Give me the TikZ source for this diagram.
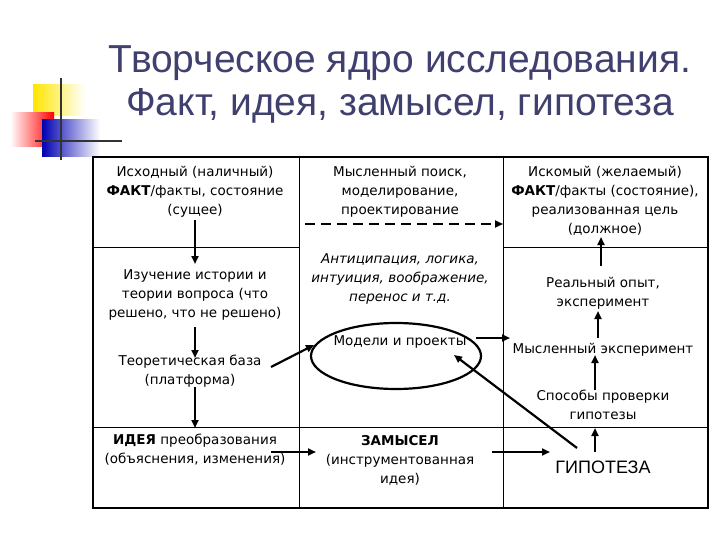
\documentclass[tikz,border=0pt]{standalone}
\usepackage{fontspec}
\setmainfont{DejaVu Sans}
\newfontfamily\titlefont{Liberation Sans}
\usetikzlibrary{arrows.meta}
\definecolor{titlecol}{RGB}{64,64,110}
\begin{document}
\begin{tikzpicture}[x=1pt,y=-1pt,
  txt/.style={align=center,font=\fontsize{13.5}{19}\selectfont,inner sep=0pt},
  arr/.style={-{Triangle[length=8pt,width=7pt]},line width=2.2pt},
  grid/.style={line width=0.8pt}]
\useasboundingbox (0,0) rectangle (720,540);
% decoration
\shade[left color=yellow!80!orange,right color=white] (33,85) rectangle (85,116);
\shade[right color=red,left color=white] (10,113) rectangle (54,147);
\shade[left color=blue!70!black,right color=white] (42,120) rectangle (100,157);
\draw[line width=1.5pt,black!80] (61,78) -- (61,160);
\draw[line width=1.5pt,black!80] (35,141) -- (122,141);
% title
\node[font=\titlefont\fontsize{39}{43}\selectfont,text=titlecol,align=center,inner sep=0pt] (title) at (400,84) {Творческое ядро исследования.\\Факт, идея, замысел, гипотеза};
% table
\draw[line width=1.8pt] (93,157) rectangle (708,508);
\draw[grid] (299,157) -- (299,508) (503,157) -- (503,508);
\draw[grid] (93,247) -- (299,247) (503,247) -- (708,247);
\draw[grid] (93,427) -- (708,427);
% left
\node[txt] (a1) at (195,192) {Исходный (наличный)\\\textbf{ФАКТ}/факты, состояние\\(сущее)};
\node[txt] (a2) at (195,295) {Изучение истории и\\теории вопроса (что\\решено, что не решено)};
\node[txt] (a3) at (190,371) {Теоретическая база\\(платформа)};
\node[txt] (a4) at (195,450) {\textbf{ИДЕЯ} преобразования\\(объяснения, изменения)};
% middle
\node[txt] (b1) at (400,192) {Мысленный поиск,\\моделирование,\\проектирование};
\node[txt,font=\fontsize{13.5}{19}\selectfont\itshape] (b2) at (400,279) {Антиципация, логика,\\интуиция, воображение,\\перенос и т.д.};
\draw[line width=2.2pt] (396,356) ellipse (85 and 33);
\node[txt] (b3) at (400,342) {Модели и проекты};
\node[txt] (b4) at (400,460) {\textbf{ЗАМЫСЕЛ}\\(инструментованная\\идея)};
% right
\node[txt] (c1) at (605,201) {Искомый (желаемый)\\\textbf{ФАКТ}/факты (состояние),\\реализованная цель\\(должное)};
\node[txt] (c2) at (603,293) {Реальный опыт,\\эксперимент};
\node[txt] (c3) at (603,350) {Мысленный эксперимент};
\node[txt] (c4) at (603,405) {Способы проверки\\гипотезы};
\node[font=\titlefont\fontsize{18}{20}\selectfont,inner sep=0pt] (c5) at (603,467) {ГИПОТЕЗА};
% coordinates
\coordinate (d1) at (305,224); \coordinate (d2) at (503,224);
\coordinate (l1) at (195,220); \coordinate (l2) at (195,264);
\coordinate (l3) at (195,327); \coordinate (l4) at (195,358);
\coordinate (l5) at (195,387); \coordinate (l6) at (195,428);
\coordinate (t1) at (271,367); \coordinate (t2) at (314,345);
\coordinate (e1) at (476,338); \coordinate (e2) at (510,338);
\coordinate (i1) at (271,452); \coordinate (i2) at (316,452);
\coordinate (z1) at (492,452); \coordinate (z2) at (550,452);
\coordinate (g1) at (577,448); \coordinate (g2) at (454,355);
\coordinate (r1) at (595,452); \coordinate (r2) at (595,428);
\coordinate (r3) at (595,390); \coordinate (r4) at (595,355);
\coordinate (r5) at (598,338); \coordinate (r6) at (598,311);
\coordinate (r7) at (601,266); \coordinate (r8) at (601,237);
\draw[arr,dashed,dash pattern=on 10pt off 6pt] (d1) -- (d2);
\draw[arr] (l1) -- (l2);
\draw[arr] (l3) -- (l4);
\draw[arr] (l5) -- (l6);
\draw[arr] (t1) -- (t2);
\draw[arr] (e1) -- (e2);
\draw[arr] (i1) -- (i2);
\draw[arr] (z1) -- (z2);
\draw[arr] (g1) -- (g2);
\draw[arr] (r1) -- (r2);
\draw[arr] (r3) -- (r4);
\draw[arr] (r5) -- (r6);
\draw[arr] (r7) -- (r8);
\end{tikzpicture}
\end{document}
